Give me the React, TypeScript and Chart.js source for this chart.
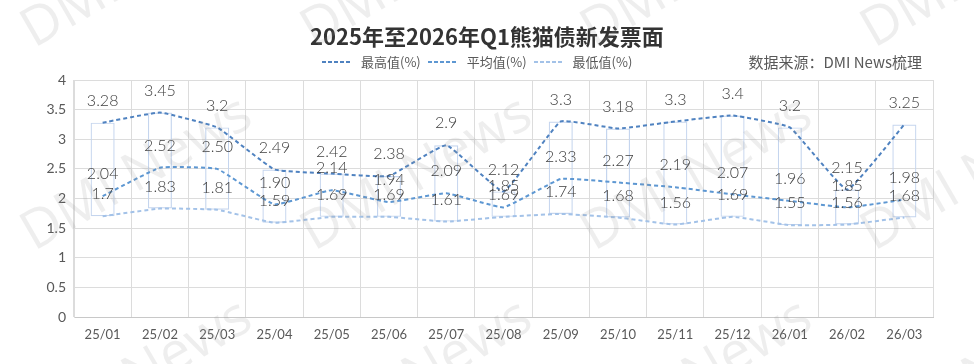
import React, { useEffect, useRef } from "react";
import { Chart, registerables } from "chart.js";

Chart.register(...registerables);

const categories = ["25/01", "25/02", "25/03", "25/04", "25/05", "25/06", "25/07", "25/08", "25/09", "25/10", "25/11", "25/12", "26/01", "26/02", "26/03"];
const maxValues = [3.28, 3.45, 3.2, 2.49, 2.42, 2.38, 2.9, 2.12, 3.3, 3.18, 3.3, 3.4, 3.2, 2.15, 3.25];
const avgValues = [2.04, 2.52, 2.5, 1.9, 2.14, 1.94, 2.09, 1.85, 2.33, 2.27, 2.19, 2.07, 1.96, 1.85, 1.98];
const minValues = [1.7, 1.83, 1.81, 1.59, 1.69, 1.69, 1.61, 1.69, 1.74, 1.68, 1.56, 1.69, 1.55, 1.56, 1.68];
const yTicks = [0, 0.5, 1, 1.5, 2, 2.5, 3, 3.5, 4];

const seriesNames = ["最高值(%)", "平均值(%)", "最低值(%)"];
const seriesColors = ["#4f82c0", "#5d97d2", "#a3c2e8"];
const title = "2025年至2026年Q1熊猫债新发票面";
const source = "数据来源：DMI News梳理";

const LABEL_FONT = '"Lato", "Noto Sans", sans-serif';
const CJK_FONT = '"Noto Sans CJK SC", sans-serif';

const dataLabelPlugin = {
  id: "dataLabels",
  afterDatasetsDraw(chart: any) {
    const ctx = chart.ctx;
    ctx.save();
    ctx.font = `300 16px ${LABEL_FONT}`;
    ctx.fillStyle = "#404040";
    ctx.textAlign = "center";
    ctx.textBaseline = "middle";
    chart.data.datasets.forEach((ds: any, di: number) => {
      if (ds.type !== "line") return;
      const meta = chart.getDatasetMeta(di);
      meta.data.forEach((pt: any, i: number) => {
        const v = ds.data[i];
        const txt = ds.fixed2 ? v.toFixed(2) : String(v);
        ctx.fillText(txt, pt.x, pt.y - 22);
      });
    });
    ctx.restore();
  },
};

function Watermarks() {
  const items: { x: number; y: number }[] = [];
  for (let r = 0; r < 3; r++) {
    for (let c = 0; c < 4; c++) {
      items.push({ x: 10 + c * 280, y: 57 + r * 203 });
    }
  }
  return (
    <>
      {items.map((p, i) => (
        <div
          key={i}
          style={{
            position: "absolute",
            left: p.x,
            top: p.y,
            transform: "rotate(-30deg)",
            transformOrigin: "0 0",
            fontFamily: '"Open Sans", sans-serif',
            fontSize: 54,
            lineHeight: "54px",
            marginTop: -50,
            color: "rgba(150,150,150,0.16)",
            whiteSpace: "nowrap",
            pointerEvents: "none",
          }}
        >
          DMI News
        </div>
      ))}
    </>
  );
}

function LegendItem({ name, color }: { name: string; color: string }) {
  return (
    <span style={{ display: "inline-flex", alignItems: "center", marginRight: 6 }}>
      <svg width="32" height="4" style={{ marginRight: 8 }}>
        <line x1="1" y1="2" x2="31" y2="2" stroke={color} strokeWidth="2" strokeDasharray="4 2" />
      </svg>
      <span>{name}</span>
    </span>
  );
}

export default function App() {
  const canvasRef = useRef<HTMLCanvasElement | null>(null);

  useEffect(() => {
    if (!canvasRef.current) return;
    const lineBase = {
      type: "line",
      borderWidth: 2,
      borderDash: [4, 3],
      pointRadius: 0,
      tension: 0.1,
      fill: false,
    };
    const chart = new Chart(canvasRef.current, {
      type: "bar",
      data: {
        labels: categories,
        datasets: [
          { ...lineBase, label: seriesNames[0], data: maxValues, borderColor: seriesColors[0], order: 1 } as any,
          { ...lineBase, label: seriesNames[1], data: avgValues, borderColor: seriesColors[1], order: 2, fixed2: true } as any,
          { ...lineBase, label: seriesNames[2], data: minValues, borderColor: seriesColors[2], order: 3 } as any,
          {
            type: "bar",
            label: "range",
            data: minValues.map((m, i) => [m, maxValues[i]]),
            backgroundColor: "rgba(255,255,255,0)",
            borderColor: "#c5d5ee",
            borderWidth: 1.2,
            borderSkipped: false,
            barPercentage: 0.42,
            categoryPercentage: 1,
            order: 10,
          } as any,
        ],
      },
      options: {
        responsive: false,
        animation: false,
        layout: { padding: { top: 80, right: 41, left: 0, bottom: 0 } },
        plugins: {
          legend: { display: false },
          title: { display: false },
          tooltip: { enabled: false },
        },
        scales: {
          x: {
            grid: { color: "#dcdcdc", drawTicks: false, offset: true },
            border: { color: "#c8c8c8" },
            ticks: {
              color: "#595959",
              font: { family: LABEL_FONT, size: 13 },
              padding: 10,
              maxRotation: 0,
            },
            afterFit(scale: any) {
              scale.height = 47;
            },
          },
          y: {
            min: 0,
            max: 4,
            afterBuildTicks(scale: any) {
              scale.ticks = yTicks.map((v) => ({ value: v }));
            },
            grid: { color: "#dcdcdc", drawTicks: false },
            border: { color: "#dcdcdc" },
            ticks: {
              color: "#595959",
              font: { family: LABEL_FONT, size: 14 },
              padding: 8,
              callback: (v: any) => String(v),
            },
            afterFit(scale: any) {
              scale.width = 74;
            },
          },
        },
      },
      plugins: [dataLabelPlugin],
    });
    return () => chart.destroy();
  }, []);

  return (
    <div style={{ position: "fixed", left: 0, top: 0, width: 974, height: 364, background: "#fff", overflow: "hidden" }}>
      <canvas ref={canvasRef} width={974} height={364} style={{ position: "absolute", left: 0, top: 0 }} />
      <div
        style={{
          position: "absolute",
          left: 0,
          width: 974,
          top: 20,
          textAlign: "center",
          fontFamily: CJK_FONT,
          fontWeight: 700,
          fontSize: 22,
          lineHeight: "30px",
          color: "#333333",
        }}
      >
        {title}
      </div>
      <div
        style={{
          position: "absolute",
          left: 321,
          top: 52,
          display: "flex",
          alignItems: "center",
          fontFamily: CJK_FONT,
          fontSize: 13,
          lineHeight: "20px",
          color: "#595959",
        }}
      >
        {seriesNames.map((n, i) => (
          <LegendItem key={n} name={n} color={seriesColors[i]} />
        ))}
      </div>
      <div
        style={{
          position: "absolute",
          right: 52,
          top: 51,
          fontFamily: CJK_FONT,
          fontSize: 15,
          lineHeight: "22px",
          color: "#595959",
          whiteSpace: "nowrap",
        }}
      >
        {source}
      </div>
      <Watermarks />
    </div>
  );
}
